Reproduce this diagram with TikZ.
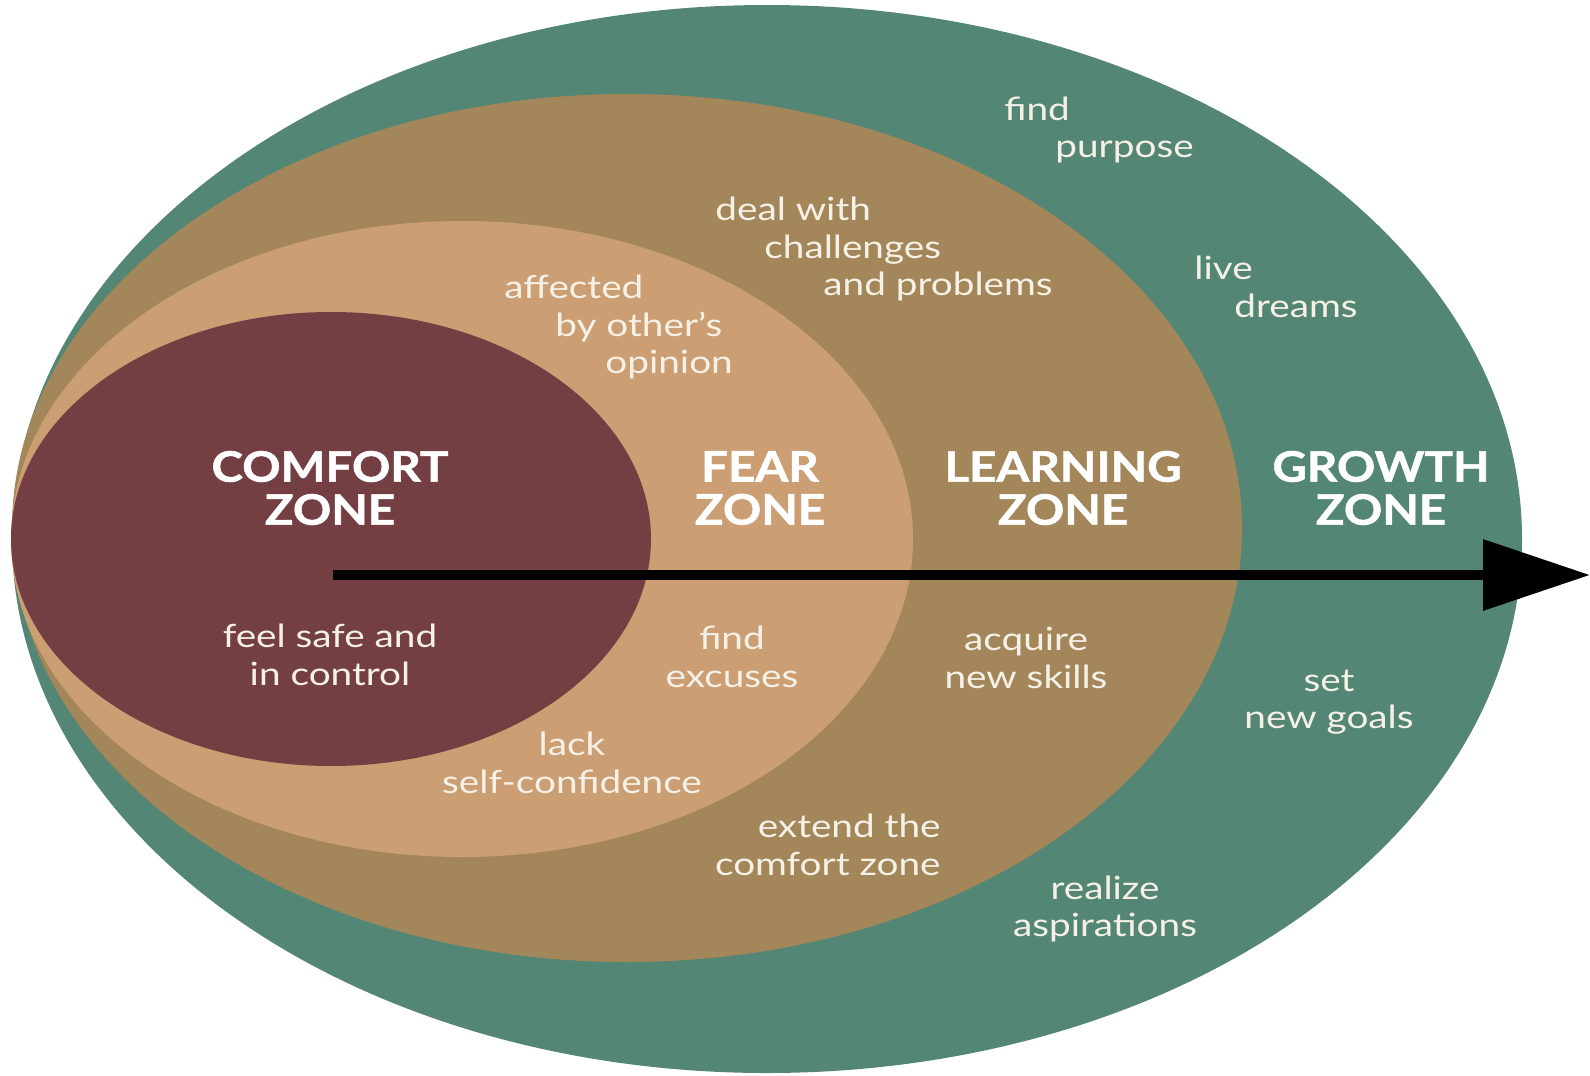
\documentclass[tikz,border=0pt]{standalone}
\usepackage{fontspec}
\setmainfont{Lato}[FakeStretch=1.21]
\newfontfamily\titlefont{Lato}[FakeStretch=1.13, BoldFeatures={FakeBold=1.3}]
\usetikzlibrary{arrows.meta}
\definecolor{growthgreen}{RGB}{84,134,117}
\definecolor{learnbrown}{RGB}{163,135,90}
\definecolor{feartan}{RGB}{203,158,115}
\definecolor{comfortred}{RGB}{116,63,67}
\definecolor{labelcream}{RGB}{246,241,230}

\begin{document}
\begin{tikzpicture}[x=0.5pt, y=-0.5pt,
    zonetitle/.style={text=white, align=center, inner sep=0pt,
      font=\titlefont\fontsize{21}{21.5}\selectfont\bfseries},
    zonetext/.style={text=labelcream, inner sep=0pt,
      font=\fontsize{16}{18.7}\selectfont}]
			%%%%% START %%%%%
			\useasboundingbox (0,0) rectangle (1590,1076);
			
			% the four zones, outside in
			\fill[growthgreen] (767,539) ellipse [x radius=755, y radius=534];
			\fill[learnbrown] (627,528) ellipse [x radius=615, y radius=434];
			\fill[feartan] (462,539) ellipse [x radius=451, y radius=318];
			\fill[comfortred] (331,539) ellipse [x radius=320, y radius=227];
			
			% titles
			\node[zonetitle] (comfort) at (330,488) {COMFORT\\ZONE};
			\node[zonetitle] (fear) at (760,488) {FEAR\\ZONE};
			\node[zonetitle] (learning) at (1063,488) {LEARNING\\ZONE};
			\node[zonetitle] (growth) at (1381,488) {GROWTH\\ZONE};
			
			% arrow
			\coordinate (start) at (333,575);
			\coordinate (tip) at (1590,575);
			\draw[line width=5pt, -{Triangle[length=53.5pt, width=34.5pt]}] (start) -- (tip);
			
			% comfort zone
			\node[zonetext, align=center] (safe) at (330,655) {feel safe and\\in control};
			
			% fear zone
			\node[zonetext, align=left, anchor=west] (opinion) at (504,327)
			  {affected\\\hspace*{25.5pt}by other's\\\hspace*{50.5pt}opinion};
			\node[zonetext, align=center] (excuses) at (732,657) {find\\excuses};
			\node[zonetext, align=center] (lack) at (572,763) {lack\\self-confidence};
			
			% learning zone
			\node[zonetext, align=left, anchor=west] (deal) at (715,249)
			  {deal with\\\hspace*{24.5pt}challenges\\\hspace*{54pt}and problems};
			\node[zonetext, align=center] (skills) at (1026,658) {acquire\\new skills};
			\node[zonetext, align=right, anchor=east] (extend) at (941,845) {extend the\\comfort zone};
			
			% growth zone
			\node[zonetext, align=left, anchor=west] (purpose) at (1004,130) {find\\\hspace*{25.5pt}purpose};
			\node[zonetext, align=left, anchor=west] (dreams) at (1194,287) {live\\\hspace*{20pt}dreams};
			\node[zonetext, align=center] (goals) at (1329,702) {set\\new goals};
			\node[zonetext, align=center] (aspire) at (1105,909) {realize\\aspirations};
			
			%%%%% END %%%%%
\end{tikzpicture}
\end{document}
